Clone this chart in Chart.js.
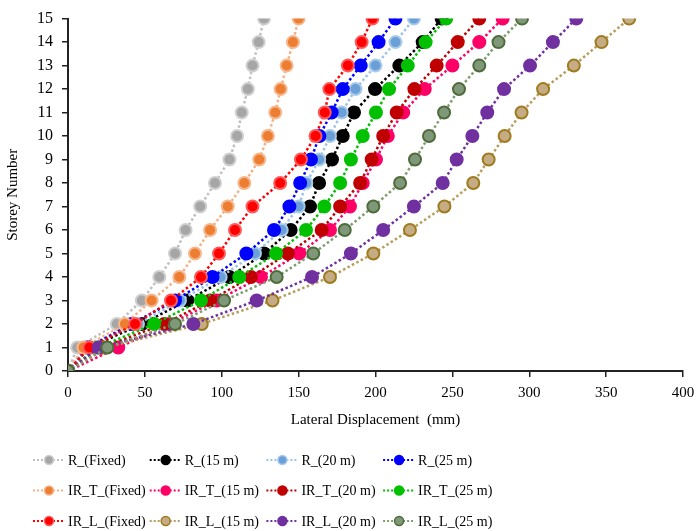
<!DOCTYPE html>
<html lang="en">
<head>
  <meta charset="UTF-8">
  <title>Storey Displacement</title>
  <style>
    html, body {
      margin: 0;
      padding: 0;
      background: #fff;
    }
    #wrap {
      width: 697px;
      height: 531px;
      position: relative;
    }
  </style>
  <script src="https://cdn.jsdelivr.net/npm/chart.js"></script>
</head>
<body>
  <div id="wrap">
    <canvas id="dispChart" width="697" height="531"></canvas>
  </div>

  <script>
    const storeys = [0, 1, 2, 3, 4, 5, 6, 7, 8, 9, 10, 11, 12, 13, 14, 15];

    const rFixed   = [0, 6, 31.7, 48, 59.4, 69.6, 76.5, 86, 95.6, 105, 110, 113, 117, 120, 124, 127.5];
    const r15      = [0, 14, 48, 77.6, 105, 127.5, 144.8, 157.4, 163.3, 171.7, 178.7, 186, 199.7, 215.5, 230.7, 243];
    const r20      = [0, 11, 45.5, 72.8, 99.3, 121.6, 139, 150, 155, 163.4, 170.4, 178, 187, 200, 213, 225];
    const r25      = [0, 12.6, 41.4, 69.6, 94, 116, 134, 144, 151, 158, 163.5, 171.5, 178.7, 190.4, 202, 213];
    const irTFixed = [0, 10, 37, 54.4, 72.4, 82.6, 92.4, 103.9, 114.7, 124.4, 130, 134.8, 138.3, 142.2, 146.3, 150];
    const irT15    = [0, 32.7, 66, 96.7, 125.5, 150.4, 170.4, 183.4, 191.7, 200.3, 208, 218, 232, 250, 267.5, 282.7];
    const irT20    = [0, 22, 62.6, 92.4, 119, 143, 165, 177, 190, 197.5, 205, 213.8, 225.3, 239.8, 253.5, 267.5];
    const irT25    = [0, 19.3, 56, 86.5, 111.4, 135.3, 154.8, 166.7, 177, 184, 191.7, 200.3, 208.8, 221, 232.6, 246];
    const irLFixed = [0, 13.9, 43.6, 67, 86.5, 98.2, 108.6, 120, 138, 151.5, 161, 167, 170, 182, 191, 198];
    const irL15    = [0, 24, 87, 133, 170.4, 198.6, 222.4, 244.8, 263.6, 273.6, 284, 295, 309, 329, 347, 365];
    const irL20    = [0, 20, 81.5, 122.7, 158.7, 184, 205, 225, 243.7, 252.8, 263, 272.7, 283.6, 300.5, 315.4, 330.6];
    const irL25    = [0, 25.6, 69.6, 101.5, 135.7, 159.5, 180, 198.6, 216, 225.7, 234.8, 244.6, 254.3, 267.5, 280, 295.3];

    const seriesNames = [
      "R_(Fixed)", "R_(15 m)", "R_(20 m)", "R_(25 m)",
      "IR_T_(Fixed)", "IR_T_(15 m)", "IR_T_(20 m)", "IR_T_(25 m)",
      "IR_L_(Fixed)", "IR_L_(15 m)", "IR_L_(20 m)", "IR_L_(25 m)"
    ];
    const seriesValues = [rFixed, r15, r20, r25, irTFixed, irT15, irT20, irT25, irLFixed, irL15, irL20, irL25];

    // line colour, marker fill, marker ring
    const styles = [
      ["#C0C0C0", "#A6A6A6", "#CFCFCF"],
      ["#000000", "#000000", "#000000"],
      ["#9DC3E6", "#6A9FD8", "#A9CBEA"],
      ["#0000FF", "#0000FF", "#0000FF"],
      ["#F4B183", "#ED7D31", "#F5B78E"],
      ["#FF0066", "#FF0066", "#FF0066"],
      ["#C00000", "#C00000", "#C00000"],
      ["#00C000", "#00C000", "#00C000"],
      ["#FF0000", "#FF0000", "#FF5A5A"],
      ["#B89D5C", "#C6AC84", "#9E7B1C"],
      ["#7030A0", "#7030A0", "#7030A0"],
      ["#7F9C6E", "#80987A", "#4E6B3A"]
    ];

    const FONT = "'Liberation Serif', 'Times New Roman', serif";

    const datasets = seriesValues.map((vals, i) => ({
      label: seriesNames[i],
      data: vals.map((v, k) => ({ x: v, y: storeys[k] })),
      borderColor: styles[i][0],
      backgroundColor: styles[i][1],
      pointBackgroundColor: styles[i][1],
      pointBorderColor: styles[i][2],
      pointRadius: 6,
      pointHoverRadius: 6,
      pointBorderWidth: 2,
      borderWidth: 2.5,
      borderDash: [2.5, 2.5],
      showLine: true,
      tension: 0,
      order: seriesValues.length - i
    }));

    // legend laid out in a 4 x 3 grid under the axis title
    const gridLegend = {
      id: "gridLegend",
      afterDraw(chart) {
        const ctx = chart.ctx;
        ctx.save();
        chart.data.datasets.forEach((ds, i) => {
          const col = i % 4, row = Math.floor(i / 4);
          const x0 = 33 + col * 116.7;
          const y = 460 + row * 30.5;
          ctx.setLineDash([2, 2]);
          ctx.lineWidth = 2;
          ctx.strokeStyle = ds.borderColor;
          ctx.beginPath();
          ctx.moveTo(x0, y);
          ctx.lineTo(x0 + 32, y);
          ctx.stroke();
          ctx.setLineDash([]);
          ctx.beginPath();
          ctx.arc(x0 + 16, y, 4.5, 0, Math.PI * 2);
          ctx.fillStyle = ds.pointBackgroundColor;
          ctx.fill();
          ctx.lineWidth = 1.5;
          ctx.strokeStyle = ds.pointBorderColor;
          ctx.stroke();
          ctx.fillStyle = "#000";
          ctx.font = "14px " + FONT;
          ctx.textBaseline = "middle";
          ctx.textAlign = "left";
          ctx.fillText(ds.label, x0 + 35, y + 1);
        });
        ctx.restore();
      }
    };

    Chart.defaults.font.family = FONT;
    Chart.defaults.color = "#000";

    new Chart(document.getElementById("dispChart").getContext("2d"), {
      type: "scatter",
      data: { datasets },
      options: {
        responsive: false,
        animation: false,
        layout: { padding: { top: 16, right: 14, bottom: 98, left: 0 } },
        plugins: {
          legend: { display: false },
          tooltip: { enabled: false }
        },
        scales: {
          x: {
            type: "linear",
            min: 0,
            max: 400,
            ticks: { stepSize: 50, font: { size: 15 }, padding: 7 },
            grid: { drawOnChartArea: false, drawTicks: true, tickLength: 6, color: "#222", lineWidth: 1.5 },
            border: { color: "#222", width: 2 },
            title: { display: true, text: "Lateral Displacement  (mm)", font: { size: 15 }, padding: { top: 5 } },
            afterFit(scale) {
              scale.height = 62;
              scale.paddingLeft = 0;
              scale.paddingRight = 0;
            }
          },
          y: {
            type: "linear",
            min: 0,
            max: 15,
            ticks: { stepSize: 1, font: { size: 16 }, padding: 9 },
            grid: { drawOnChartArea: false, drawTicks: true, tickLength: 6, color: "#222", lineWidth: 1.5 },
            border: { color: "#222", width: 2 },
            title: { display: true, text: "Storey Number", font: { size: 15 }, padding: { bottom: 6 } },
            afterFit(scale) { scale.width = 68; }
          }
        }
      },
      plugins: [gridLegend]
    });
  </script>
</body>
</html>
